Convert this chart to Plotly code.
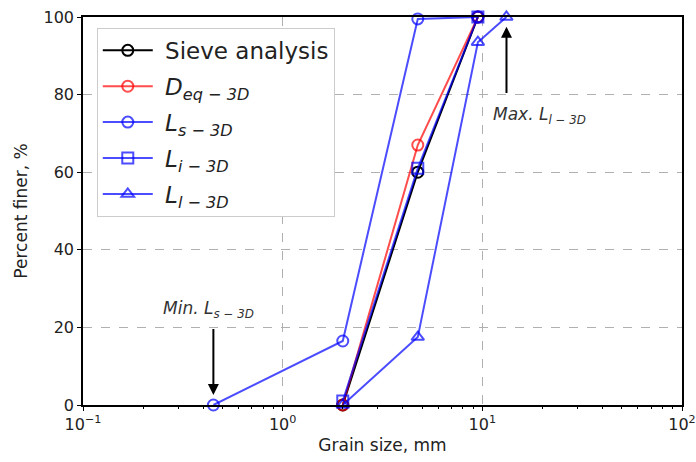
import plotly.graph_objects as go

# Grain size distribution: sieve analysis vs. 3D particle size measures
sieve_x = [2.0, 4.75, 9.5]
sieve_y = [0, 60, 100]

deq_x = [2.0, 4.75, 9.5]
deq_y = [0, 67, 100]

ls_x = [0.45, 2.0, 4.75, 9.5]
ls_y = [0, 16.5, 99.5, 100]

li_x = [2.0, 4.75, 9.5]
li_y = [1, 61, 100]

ll_x = [2.0, 4.75, 9.5, 13.2]
ll_y = [0, 17.5, 93.5, 100]

x_major = [0.1, 1, 10, 100]
x_major_text = ["10<sup>−1</sup>", "10<sup>0</sup>", "10<sup>1</sup>", "10<sup>2</sup>"]
x_minor = [m * d for d in (0.1, 1, 10) for m in range(2, 10)]
y_ticks = [0, 20, 40, 60, 80, 100]

BLUE = "rgba(0,0,255,0.7)"
RED = "rgba(255,0,0,0.7)"
FONT = "DejaVu Sans"
NB = "\u00a0"

series = [
    ("Sieve analysis", sieve_x, sieve_y, "black", "circle-open"),
    ("<i>D</i><sub><i>eq</i> − <i>3D</i></sub>", deq_x, deq_y, RED, "circle-open"),
    ("<i>L</i><sub><i>s</i> − <i>3D</i></sub>", ls_x, ls_y, BLUE, "circle-open"),
    ("<i>L</i><sub><i>i</i> − <i>3D</i></sub>", li_x, li_y, BLUE, "square-open"),
    ("<i>L</i><sub><i>l</i> − <i>3D</i></sub>", ll_x, ll_y, BLUE, "triangle-up-open"),
]

fig = go.Figure()
for i, (name, xs, ys, color, symbol) in enumerate(series):
    fig.add_trace(go.Scatter(
        x=xs, y=ys, name=NB + name, mode="lines+markers",
        legendgroup=f"g{i}",
        line=dict(color=color, width=2),
        marker=dict(symbol=symbol, size=11, color=color, line=dict(color=color, width=2)),
        cliponaxis=False,
    ))

arrow_color = "black"
note_font = dict(family=FONT, size=17, color="#333")
# Arrow pointing at the largest L_l value
fig.add_annotation(x=1.121, y=97.5, xref="x", yref="y", ax=1.121, ay=80, axref="x", ayref="y",
                   text="", showarrow=True, arrowhead=2, arrowsize=1.1, arrowwidth=2, arrowcolor=arrow_color)
fig.add_annotation(x=1.045, y=74.5, xref="x", yref="y", xanchor="left", yanchor="middle",
                   text="<i>Max. L</i><sub><i>l − 3D</i></sub>", showarrow=False, font=note_font)
# Arrow pointing at the smallest L_s value
fig.add_annotation(x=-0.347, y=2.6, xref="x", yref="y", ax=-0.347, ay=20, axref="x", ayref="y",
                   text="", showarrow=True, arrowhead=2, arrowsize=1.1, arrowwidth=2, arrowcolor=arrow_color)
fig.add_annotation(x=-0.61, y=24.5, xref="x", yref="y", xanchor="left", yanchor="middle",
                   text="<i>Min. L</i><sub><i>s − 3D</i></sub>", showarrow=False, font=note_font)

grid = dict(showgrid=True, gridcolor="#b0b0b0", griddash="dash", gridwidth=1)

fig.update_layout(
    width=696, height=462,
    margin=dict(l=83, r=14, t=17, b=57, autoexpand=False),
    paper_bgcolor="white", plot_bgcolor="white",
    font=dict(family=FONT, color="#222"),
    xaxis=dict(
        type="log", range=[-1, 2], automargin=False,
        tickmode="array", tickvals=x_major, ticktext=x_major_text,
        ticks="outside", ticklen=4, tickwidth=1, tickcolor="black",
        tickfont=dict(size=16),
        minor=dict(tickmode="array", tickvals=x_minor, ticks="outside", ticklen=2,
                   tickcolor="black", showgrid=False),
        showline=True, linecolor="black", linewidth=1.5, mirror=True,
        zeroline=False,
        title=dict(text="Grain size, mm", font=dict(size=17), standoff=6),
        **grid,
    ),
    yaxis=dict(
        range=[0, 100], tickvals=y_ticks, automargin=False,
        ticks="outside", ticklen=4, tickwidth=1, tickcolor="black",
        tickfont=dict(size=16),
        showline=True, linecolor="black", linewidth=1.5, mirror=True,
        zeroline=False,
        title=dict(text="Percent finer, %", font=dict(size=17), standoff=12),
        **grid,
    ),
    legend=dict(
        x=0.023, y=0.972, xanchor="left", yanchor="top",
        bgcolor="white", bordercolor="#cccccc", borderwidth=1,
        font=dict(family=FONT, size=23, color="#222"),
        itemwidth=50, tracegroupgap=3,
    ),
)

fig.write_html("out.html")
